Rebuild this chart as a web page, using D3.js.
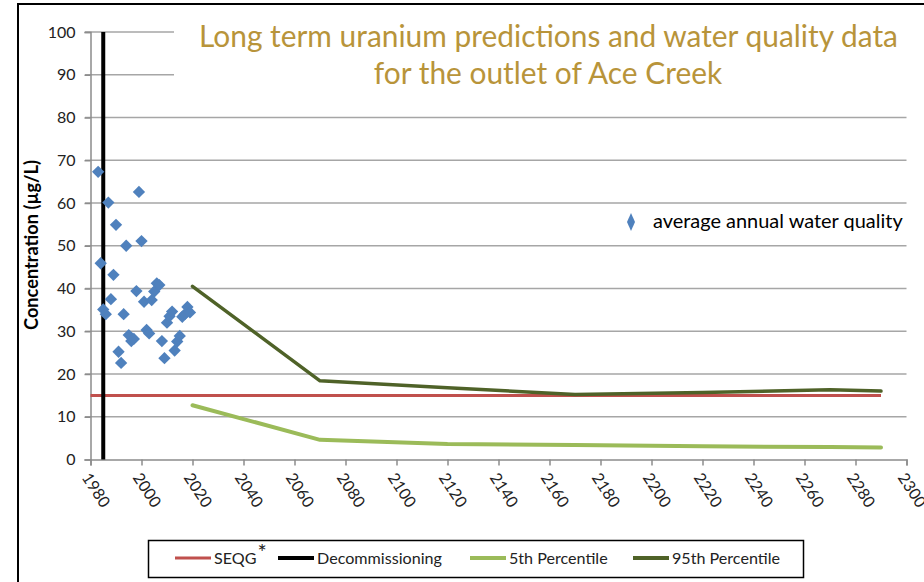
<!DOCTYPE html>
<html>
<head>
<meta charset="utf-8">
<script src="https://cdn.jsdelivr.net/npm/d3@7"></script>
<style>
  html, body { margin: 0; padding: 0; background: #fff; }
  svg { display: block; }
  text { font-family: Lato, "Open Sans", sans-serif; }
</style>
</head>
<body>
<svg id="chart" width="924" height="582"></svg>
<script>
// ---------- data ----------
const obsYears  = [1983,1984,1985,1986,1987,1988,1989,1990,1991,1992,1993,1994,1995,1996,1997,1998,1999,2000,2001,2002,2003,2004,2005,2006,2007,2008,2009,2010,2011,2012,2013,2014,2015,2016,2017,2018,2019];
const obsValues = [67.3,45.9,35.1,34.0,60.1,37.5,43.2,54.9,25.2,22.6,34.0,50.0,29.1,27.7,28.2,39.4,62.6,51.1,36.9,30.3,29.5,37.3,39.3,41.2,40.8,27.7,23.7,32.0,33.5,34.6,25.5,27.6,28.9,33.4,34.0,35.7,34.4];

const predYears = [2020, 2070, 2120, 2170, 2220, 2270, 2290];
const p5Values  = [12.7, 4.6, 3.6, 3.4, 3.1, 2.9, 2.8];
const p95Values = [40.5, 18.4, 16.8, 15.2, 15.7, 16.3, 16.0];

const seqgYears  = [1980, 2290];
const seqgValues = [15, 15];

const decomYears  = [1985, 1985];
const decomValues = [0, 100];

const xTicks = [1980,2000,2020,2040,2060,2080,2100,2120,2140,2160,2180,2200,2220,2240,2260,2280,2300];
const yTicks = [0,10,20,30,40,50,60,70,80,90,100];

const titleLines = ["Long term uranium predictions and water quality data", "for the outlet of Ace Creek"];
const yTitle = "Concentration (\u00b5g/L)";
const scatterLabel = "average annual water quality";
const legendItems = [
  {name: "SEQG", sup: "*", color: "#C0504D", w: 3},
  {name: "Decommissioning", sup: "", color: "#000000", w: 4},
  {name: "5th Percentile", sup: "", color: "#9BBB59", w: 4},
  {name: "95th Percentile", sup: "", color: "#4F6228", w: 4}
];

// ---------- setup ----------
const svg = d3.select("#chart");
const x = d3.scaleLinear().domain([1980, 2300]).range([90.5, 906.5]);
const y = d3.scaleLinear().domain([0, 100]).range([459.5, 32]);

function fit(sel, target) {
  const w = sel.node().getComputedTextLength();
  const fs = parseFloat(sel.attr("font-size"));
  sel.attr("font-size", (fs * target / w).toFixed(2));
}

// outer border
svg.append("rect").attr("x", 18).attr("y", 4).attr("width", 1000).attr("height", 1000)
  .attr("fill", "#fff").attr("stroke", "#000").attr("stroke-width", 2);

// gridlines
svg.append("g").selectAll("line").data(yTicks.filter(d => d > 0)).join("line")
  .attr("x1", 85).attr("x2", 906.5)
  .attr("y1", d => y(d)).attr("y2", d => y(d))
  .attr("stroke", "#a6a6a6").attr("stroke-width", 1.5);

// axes
const yAxis = svg.append("g").attr("transform", "translate(90.5,0)")
  .call(d3.axisLeft(y).tickValues(yTicks).tickSize(6).tickPadding(9).tickFormat(d3.format("d")));
yAxis.select(".domain").attr("stroke", "#8c8c8c").attr("stroke-width", 1.5);
yAxis.selectAll(".tick line").attr("stroke", "#8c8c8c").attr("stroke-width", 1.5);
yAxis.selectAll("text").attr("font-size", 16).attr("fill", "#222").attr("font-family", "Lato");

const xAxis = svg.append("g").attr("transform", "translate(0,459.5)")
  .call(d3.axisBottom(x).tickValues(xTicks).tickSize(6).tickFormat(d3.format("d")));
xAxis.select(".domain").attr("stroke", "#8c8c8c").attr("stroke-width", 1.5);
xAxis.selectAll(".tick line").attr("stroke", "#8c8c8c").attr("stroke-width", 1.5);
xAxis.selectAll("text")
  .attr("font-size", 16).attr("fill", "#222").attr("font-family", "Lato")
  .attr("text-anchor", "start")
  .attr("transform", "translate(-5,15) rotate(57)")
  .attr("x", 0).attr("y", 0).attr("dy", "0.35em");

// series lines
const line = d3.line().x(d => x(d[0])).y(d => y(d[1]));
svg.append("path").datum(d3.zip(seqgYears, seqgValues)).attr("d", line)
  .attr("fill", "none").attr("stroke", "#C0504D").attr("stroke-width", 3);
svg.append("path").datum(d3.zip(decomYears, decomValues)).attr("d", line)
  .attr("fill", "none").attr("stroke", "#000").attr("stroke-width", 4);
svg.append("path").datum(d3.zip(predYears, p5Values)).attr("d", line)
  .attr("fill", "none").attr("stroke", "#9BBB59").attr("stroke-width", 4)
  .attr("stroke-linejoin", "round").attr("stroke-linecap", "round");
svg.append("path").datum(d3.zip(predYears, p95Values)).attr("d", line)
  .attr("fill", "none").attr("stroke", "#4F6228").attr("stroke-width", 3.5)
  .attr("stroke-linejoin", "round").attr("stroke-linecap", "round");

// scatter
const diamond = d3.symbol().type(d3.symbolSquare).size(76);
svg.append("g").selectAll("path").data(d3.zip(obsYears, obsValues)).join("path")
  .attr("d", diamond)
  .attr("transform", d => `translate(${x(d[0])},${y(d[1])}) rotate(45)`)
  .attr("fill", "#4F81BD");

// title box
svg.append("rect").attr("x", 174).attr("y", 14).attr("width", 745).attr("height", 88).attr("fill", "#fff");
const t1 = svg.append("text").attr("x", 548.5).attr("y", 47).attr("text-anchor", "middle")
  .attr("font-size", 28).attr("fill", "#B8943A").text(titleLines[0]);
fit(t1, 699);
svg.append("text").attr("x", 548).attr("y", 84).attr("text-anchor", "middle")
  .attr("font-size", t1.attr("font-size")).attr("fill", "#B8943A").text(titleLines[1]);

// y title
const yt = svg.append("text").attr("transform", "translate(38,245) rotate(-90)")
  .attr("text-anchor", "middle").attr("font-size", 14).attr("font-weight", "bold")
  .attr("fill", "#000").text(yTitle);
fit(yt, 170);

// scatter legend
svg.append("path").attr("d", "M0,-9 L4,0 L0,9 L-4,0 Z")
  .attr("transform", "translate(631,222)").attr("fill", "#4F81BD");
const sl = svg.append("text").attr("x", 653).attr("y", 228).attr("font-size", 16)
  .attr("fill", "#000").text(scatterLabel);
fit(sl, 250);

// bottom legend
svg.append("rect").attr("x", 148.5).attr("y", 540.5).attr("width", 655).attr("height", 37)
  .attr("fill", "#fff").attr("stroke", "#000").attr("stroke-width", 1.5);
const legPos = [175, 278, 470, 633];
const lg = svg.append("g");
legendItems.forEach((it, i) => {
  const g = lg.append("g").attr("transform", `translate(${legPos[i]},558)`);
  g.append("line").attr("x1", 0).attr("x2", 36).attr("y1", 0).attr("y2", 0)
    .attr("stroke", it.color).attr("stroke-width", it.w);
  const tx = g.append("text").attr("x", 39).attr("y", 6).attr("font-size", 16).attr("fill", "#222");
  tx.append("tspan").text(it.name);
  if (it.sup) tx.append("tspan").attr("class", "sup").attr("dy", -4).text(it.sup);
});
const decNode = lg.selectAll("text").nodes()[1];
const fsLeg = 16 * 125 / decNode.getComputedTextLength();
lg.selectAll("text").attr("font-size", fsLeg.toFixed(2));
lg.selectAll("tspan.sup").attr("font-size", (fsLeg * 1.35).toFixed(2)).attr("dx", 1);
</script>
</body>
</html>
